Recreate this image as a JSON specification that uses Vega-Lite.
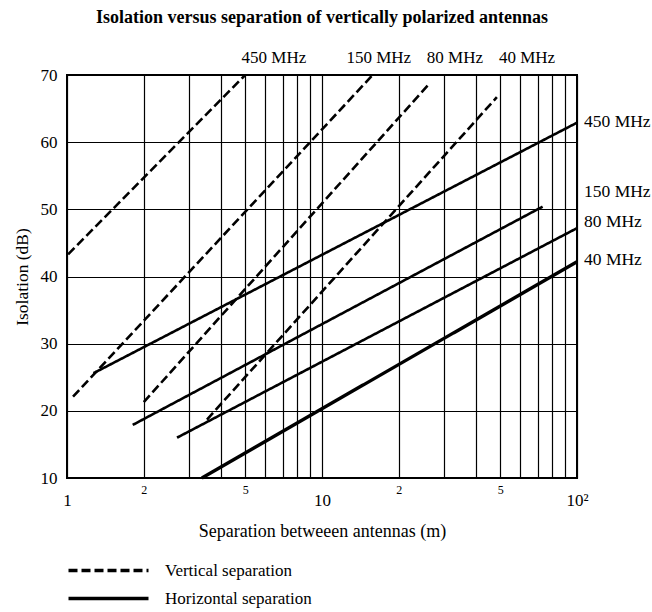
{
  "$schema": "https://vega.github.io/schema/vega-lite/v6.json",
  "autosize": "none",
  "width": 510,
  "height": 403,
  "padding": {"left": 67, "top": 75, "right": 75, "bottom": 134},
  "background": "white",
  "title": {
    "text": "Isolation versus separation of vertically polarized antennas",
    "font": "Liberation Serif",
    "fontSize": 18,
    "fontWeight": "bold",
    "color": "black",
    "anchor": "middle",
    "offset": 22
  },
  "config": {
    "view": {"stroke": "black", "strokeWidth": 2},
    "font": "Liberation Serif"
  },
  "datasets": {
    "curves": [
      {"id": "V450", "type": "Vertical separation", "freq": "450 MHz", "sep": 1.01, "iso": 43.3},
      {"id": "V450", "type": "Vertical separation", "freq": "450 MHz", "sep": 5.0, "iso": 70},
      {"id": "V150", "type": "Vertical separation", "freq": "150 MHz", "sep": 1.056, "iso": 22.1},
      {"id": "V150", "type": "Vertical separation", "freq": "150 MHz", "sep": 15.8, "iso": 70},
      {"id": "V80", "type": "Vertical separation", "freq": "80 MHz", "sep": 2.0, "iso": 21.3},
      {"id": "V80", "type": "Vertical separation", "freq": "80 MHz", "sep": 26.5, "iso": 68.8},
      {"id": "V40", "type": "Vertical separation", "freq": "40 MHz", "sep": 3.54, "iso": 18.7},
      {"id": "V40", "type": "Vertical separation", "freq": "40 MHz", "sep": 48.5, "iso": 66.7},
      {"id": "H450", "type": "Horizontal separation", "freq": "450 MHz", "sep": 1.27, "iso": 25.6},
      {"id": "H450", "type": "Horizontal separation", "freq": "450 MHz", "sep": 100, "iso": 62.9},
      {"id": "H150", "type": "Horizontal separation", "freq": "150 MHz", "sep": 1.81, "iso": 17.9},
      {"id": "H150", "type": "Horizontal separation", "freq": "150 MHz", "sep": 73.3, "iso": 50.4},
      {"id": "H80", "type": "Horizontal separation", "freq": "80 MHz", "sep": 2.7, "iso": 16.0},
      {"id": "H80", "type": "Horizontal separation", "freq": "80 MHz", "sep": 100, "iso": 47.2},
      {"id": "H40", "type": "Horizontal separation", "freq": "40 MHz", "sep": 3.38, "iso": 10.0},
      {"id": "H40", "type": "Horizontal separation", "freq": "40 MHz", "sep": 100, "iso": 42.2}
    ],
    "toplabels": [
      {"label": "450 MHz", "sep": 6.48, "iso": 72.5},
      {"label": "150 MHz", "sep": 16.7, "iso": 72.5},
      {"label": "80 MHz", "sep": 33.2, "iso": 72.5},
      {"label": "40 MHz", "sep": 63.7, "iso": 72.5}
    ],
    "rightlabels": [
      {"label": "450 MHz", "sep": 100, "iso": 63.0},
      {"label": "150 MHz", "sep": 100, "iso": 52.6},
      {"label": "80 MHz", "sep": 100, "iso": 48.1},
      {"label": "40 MHz", "sep": 100, "iso": 42.4}
    ]
  },
  "layer": [
    {
      "data": {"name": "curves"},
      "mark": {"type": "line", "color": "black", "clip": false},
      "encoding": {
        "x": {
          "field": "sep",
          "type": "quantitative",
          "scale": {"type": "log", "domain": [1, 100], "nice": false},
          "axis": {
            "title": "Separation betweeen antennas (m)",
            "titleFont": "Liberation Serif",
            "titleFontSize": 18,
            "titleFontWeight": "normal",
            "titleColor": "black",
            "titlePadding": 14,
            "values": [1, 2, 3, 4, 5, 6, 7, 8, 9, 10, 20, 30, 40, 50, 60, 70, 80, 90, 100],
            "labelExpr": "datum.value==1?'1':datum.value==10?'10':datum.value==100?'10²':(datum.value==2||datum.value==20)?'2':(datum.value==5||datum.value==50)?'5':''",
            "labelFont": "Liberation Serif",
            "labelColor": "black",
            "labelFontSize": {"condition": {"test": "datum.value==1||datum.value==10||datum.value==100", "value": 17}, "value": 12},
            "labelPadding": {"condition": {"test": "datum.value==1||datum.value==10||datum.value==100", "value": 14}, "value": 6},
            "labelOverlap": false,
            "labelFlush": false,
            "labelBound": false,
            "ticks": false,
            "domain": false,
            "grid": true,
            "gridColor": "black",
            "gridOpacity": 1,
            "gridWidth": 1.2
          }
        },
        "y": {
          "field": "iso",
          "type": "quantitative",
          "scale": {"domain": [10, 70], "nice": false, "zero": false},
          "axis": {
            "title": "Isolation (dB)",
            "titleFont": "Liberation Serif",
            "titleFontSize": 17.5,
            "titleFontWeight": "normal",
            "titleColor": "black",
            "titlePadding": 9,
            "values": [10, 15, 20, 25, 30, 35, 40, 45, 50, 55, 60, 65, 70],
            "labelExpr": "datum.value % 10 == 0 ? datum.value : ''",
            "labelFont": "Liberation Serif",
            "labelFontSize": 17,
            "labelColor": "black",
            "labelPadding": 10,
            "labelOverlap": false,
            "labelFlush": false,
            "labelBound": false,
            "ticks": false,
            "domain": false,
            "grid": true,
            "gridColor": "black",
            "gridOpacity": 1,
            "gridWidth": 1.2
          }
        },
        "detail": {"field": "id"},
        "strokeDash": {
          "field": "type",
          "type": "nominal",
          "scale": {"domain": ["Vertical separation", "Horizontal separation"], "range": [[9, 4], [1, 0]]},
          "legend": {
            "title": null,
            "orient": "none",
            "legendX": 33,
            "legendY": 487,
            "symbolType": "M-8,0H8",
            "symbolSize": 100,
            "symbolStrokeWidth": 3.4,
            "symbolStrokeColor": "black",
            "symbolFillColor": "transparent",
            "labelFont": "Liberation Serif",
            "labelFontSize": 17,
            "labelColor": "black",
            "labelOffset": 48,
            "rowPadding": 10,
            "labelLimit": 300
          }
        },
        "strokeWidth": {
          "condition": {"test": "datum.id == 'H40'", "value": 3.4},
          "value": 2.6
        }
      }
    },
    {
      "data": {"name": "toplabels"},
      "mark": {"type": "text", "font": "Liberation Serif", "fontSize": 17, "color": "black", "align": "center", "baseline": "middle", "clip": false},
      "encoding": {
        "x": {"field": "sep", "type": "quantitative"},
        "y": {"field": "iso", "type": "quantitative"},
        "text": {"field": "label"}
      }
    },
    {
      "data": {"name": "rightlabels"},
      "mark": {"type": "text", "font": "Liberation Serif", "fontSize": 17.5, "color": "black", "align": "left", "baseline": "middle", "dx": 7, "clip": false},
      "encoding": {
        "x": {"field": "sep", "type": "quantitative"},
        "y": {"field": "iso", "type": "quantitative"},
        "text": {"field": "label"}
      }
    }
  ]
}
